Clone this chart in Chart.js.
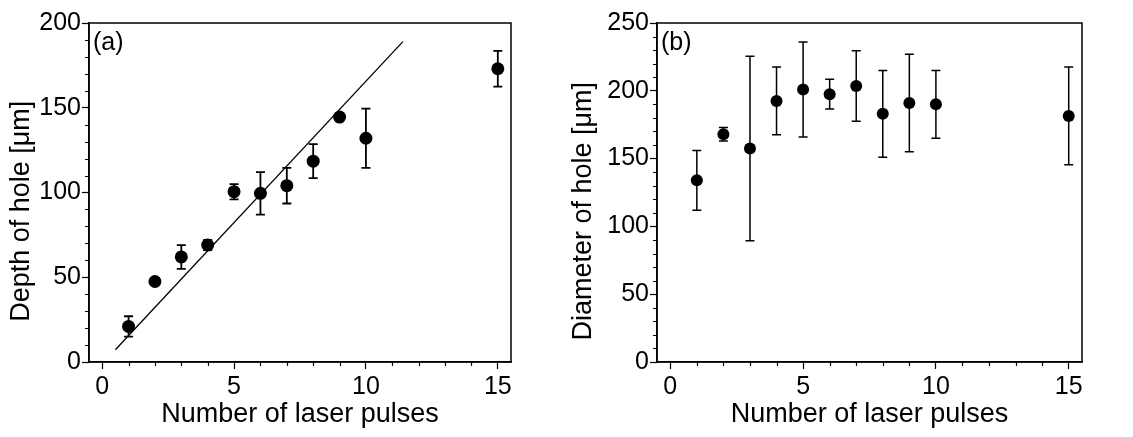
<!DOCTYPE html>
<html>
<head>
<meta charset="utf-8">
<script src="https://cdn.jsdelivr.net/npm/chart.js@4"></script>
<style>
  html, body { margin: 0; padding: 0; background: #fff; }
  #wrap { position: relative; width: 1133px; height: 437px; }
  .panel { position: absolute; top: 0; height: 437px; }
  #pa { left: 0; width: 570px; }
  #pb { left: 570px; width: 563px; }
</style>
</head>
<body>
<div id="wrap">
  <div class="panel" id="pa"><canvas id="ca" width="570" height="437"></canvas></div>
  <div class="panel" id="pb"><canvas id="cb" width="563" height="437"></canvas></div>
</div>
<script>
// ---- data ----
const pulses = [1, 2, 3, 4, 5, 6, 7, 8, 9, 10, 15];
const depth = [21, 47.5, 62, 69, 100.5, 99.5, 104, 118.5, 144.5, 132, 173];
const depthErr = [6, 2, 7, 3, 4.5, 12.5, 10.5, 10, 2, 17.5, 10.5];
const fitX = [0.5, 11.4];
const fitY = [7.2, 189];
const diameter = [134, 168, 157.5, 192.5, 201, 197.5, 203.5, 183, 191, 190, 181.5];
const diameterErr = [22, 5, 68, 25, 35, 11, 26, 32, 36, 25, 36];
const xTickValues = [0, 1, 2, 3, 4, 5, 6, 7, 8, 9, 10, 11, 12, 13, 14, 15];
const xTickLabels = [0, 5, 10, 15];
const yTickValuesA = [0, 10, 20, 30, 40, 50, 60, 70, 80, 90, 100, 110, 120, 130, 140, 150, 160, 170, 180, 190, 200];
const yTickLabelsA = [0, 50, 100, 150, 200];
const yTickValuesB = [0, 10, 20, 30, 40, 50, 60, 70, 80, 90, 100, 110, 120, 130, 140, 150, 160, 170, 180, 190, 200, 210, 220, 230, 240, 250];
const yTickLabelsB = [0, 50, 100, 150, 200, 250];

const FONT = "'Liberation Sans', Arial, sans-serif";
const NB = '\u00a0';

const errorBarPlugin = {
  id: 'errbars',
  afterDatasetsDraw(chart, args, opts) {
    const ctx = chart.ctx, xs = chart.scales.x, ys = chart.scales.y;
    const vals = opts.values, errs = opts.errors, xv = opts.xs;
    ctx.save();
    ctx.strokeStyle = '#000';
    ctx.lineWidth = opts.width;
    for (let i = 0; i < vals.length; i++) {
      const px = xs.getPixelForValue(xv[i]);
      const pt = ys.getPixelForValue(vals[i] + errs[i]);
      const pb = ys.getPixelForValue(vals[i] - errs[i]);
      ctx.beginPath();
      ctx.moveTo(px, pt); ctx.lineTo(px, pb);
      ctx.moveTo(px - opts.cap, pt); ctx.lineTo(px + opts.cap, pt);
      ctx.moveTo(px - opts.cap, pb); ctx.lineTo(px + opts.cap, pb);
      ctx.stroke();
    }
    ctx.restore();
  }
};

const framePlugin = {
  id: 'frame',
  afterDraw(chart, args, opts) {
    const ctx = chart.ctx, a = chart.chartArea;
    const xs = chart.scales.x, ys = chart.scales.y;
    ctx.save();
    ctx.strokeStyle = '#000';
    ctx.lineWidth = 1.5;
    ctx.strokeRect(a.left, a.top, a.right - a.left, a.bottom - a.top);
    // minor ticks
    ctx.lineWidth = 1.2;
    ctx.beginPath();
    xs.ticks.forEach(t => {
      if (!opts.xMajor.includes(t.value)) {
        const p = Math.round(xs.getPixelForValue(t.value)) + 0.5;
        ctx.moveTo(p, a.bottom); ctx.lineTo(p, a.bottom + 4);
      }
    });
    ys.ticks.forEach(t => {
      if (!opts.yMajor.includes(t.value)) {
        const p = Math.round(ys.getPixelForValue(t.value)) + 0.5;
        ctx.moveTo(a.left, p); ctx.lineTo(a.left - 4, p);
      }
    });
    ctx.stroke();
    // panel label
    ctx.fillStyle = '#000';
    ctx.font = '25px ' + FONT;
    ctx.textAlign = 'left';
    ctx.textBaseline = 'alphabetic';
    ctx.fillText(opts.label, a.left + 4, a.top + 27);
    ctx.restore();
  }
};

function makeChart(canvasId, cfg) {
  const majorX = xTickLabels, majorY = cfg.yLabels;
  return new Chart(document.getElementById(canvasId), {
    type: 'scatter',
    data: {
      datasets: cfg.datasets
    },
    plugins: [errorBarPlugin, framePlugin],
    options: {
      responsive: false,
      animation: false,
      events: [],
      layout: { padding: { left: 0, right: cfg.padRight, top: 23, bottom: 0 } },
      plugins: {
        legend: { display: false },
        tooltip: { enabled: false },
        errbars: { values: cfg.values, errors: cfg.errors, xs: pulses, width: cfg.errWidth, cap: 4.5 },
        frame: { xMajor: majorX, yMajor: majorY, label: cfg.label }
      },
      scales: {
        x: {
          type: 'linear', min: -0.5, max: 15.5,
          afterBuildTicks: s => { s.ticks = xTickValues.map(v => ({ value: v })); },
          afterFit: s => { s.height = 75; },
          ticks: {
            autoSkip: false, maxRotation: 0, color: '#000', padding: 3,
            font: { family: FONT, size: 25 },
            callback: v => (majorX.includes(v) ? String(v) : '')
          },
          grid: {
            drawOnChartArea: false, tickLength: 7, tickWidth: 1.2,
            tickColor: c => (c.tick && majorX.includes(c.tick.value) ? '#000' : 'rgba(0,0,0,0)')
          },
          border: { display: true, color: '#000', width: 1.5 },
          title: {
            display: true, text: 'Number of laser pulses', color: '#000',
            font: { family: FONT, size: 27, lineHeight: 1 }, padding: { top: 0, bottom: 9 }
          }
        },
        y: {
          type: 'linear', min: 0, max: cfg.yMax,
          afterBuildTicks: s => { s.ticks = cfg.yTicks.map(v => ({ value: v })); },
          afterFit: s => { s.width = cfg.yWidth; },
          ticks: {
            autoSkip: false, color: '#000', padding: 1,
            font: { family: FONT, size: 25 },
            callback: v => (majorY.includes(v) ? String(v) : '')
          },
          grid: {
            drawOnChartArea: false, tickLength: 7, tickWidth: 1.2,
            tickColor: c => (c.tick && majorY.includes(c.tick.value) ? '#000' : 'rgba(0,0,0,0)')
          },
          border: { display: true, color: '#000', width: 1.5 },
          title: {
            display: true, text: cfg.yTitle, color: '#000',
            font: { family: FONT, size: 27, lineHeight: 1 }, padding: { top: cfg.yTitlePad, bottom: 0 }
          }
        }
      }
    }
  });
}

const pointsA = pulses.map((x, i) => ({ x: x, y: depth[i] }));
const fitPts = fitX.map((x, i) => ({ x: x, y: fitY[i] }));
const pointsB = pulses.map((x, i) => ({ x: x, y: diameter[i] }));

makeChart('ca', {
  label: '(a)',
  yMax: 200, yTicks: yTickValuesA, yLabels: yTickLabelsA, yWidth: 89, padRight: 59,
  yTitle: 'Depth of hole [\u03bcm]' + NB.repeat(5), yTitlePad: 8,
  values: depth, errors: depthErr, errWidth: 1.8,
  datasets: [
    { data: fitPts, showLine: true, borderColor: '#000', borderWidth: 1.3, pointRadius: 0, fill: false },
    { data: pointsA, pointRadius: 6.5, pointBackgroundColor: '#000', pointBorderWidth: 0, showLine: false }
  ]
});

makeChart('cb', {
  label: '(b)',
  yMax: 250, yTicks: yTickValuesB, yLabels: yTickLabelsB, yWidth: 87, padRight: 51,
  yTitle: 'Diameter of hole [\u03bcm]' + NB.repeat(5), yTitlePad: 0,
  values: diameter, errors: diameterErr, errWidth: 1.5,
  datasets: [
    { data: pointsB, pointRadius: 6, pointBackgroundColor: '#000', pointBorderWidth: 0, showLine: false }
  ]
});
</script>
</body>
</html>
